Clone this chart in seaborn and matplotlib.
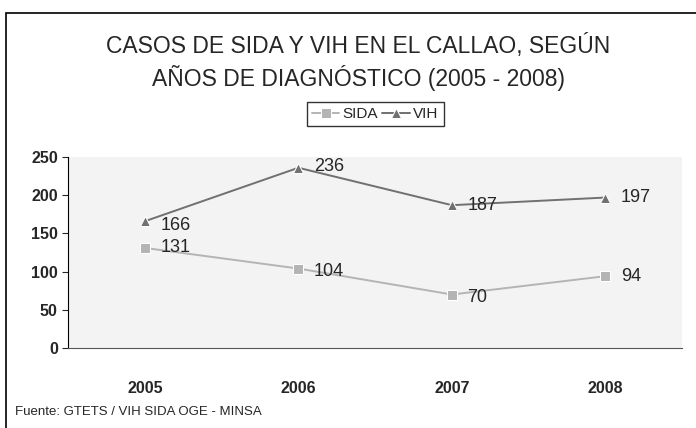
import pandas as pd
import seaborn as sns
import matplotlib.pyplot as plt

years = ["2005", "2006", "2007", "2008"]
sida = [131, 104, 70, 94]
vih = [166, 236, 187, 197]

df = pd.DataFrame({"Año": years * 2,
                   "Casos": sida + vih,
                   "Serie": ["SIDA"] * 4 + ["VIH"] * 4})

sns.set_style("white")
plt.rcParams['font.family'] = ['Liberation Sans', 'DejaVu Sans']

fig = plt.figure(figsize=(6.96, 4.28), dpi=100)
# outer frame of the chart (runs off the right and bottom edges)
fig.patches.append(plt.Rectangle((0.008, -0.05), 1.05, 1.02, transform=fig.transFigure,
                                 fill=False, edgecolor="black", linewidth=1.2))
ax = fig.add_axes([0.098, 0.187, 0.882, 0.446])
ax.set_facecolor("#f3f3f3")

sns.lineplot(data=df, x="Año", y="Casos", hue="Serie", style="Serie",
             palette={"SIDA": "#b4b4b4", "VIH": "#707070"},
             markers={"SIDA": "s", "VIH": "^"}, dashes=False,
             markersize=7, linewidth=1.4, ax=ax)

offs_sida = [0, -4, -4, 0]
offs_vih = [-6, 2, 0, 0]
for i, v in enumerate(sida):
    ax.text(i + 0.1, v + offs_sida[i], str(v), va="center", ha="left", fontsize=13)
for i, v in enumerate(vih):
    ax.text(i + 0.1, v + offs_vih[i], str(v), va="center", ha="left", fontsize=13)

ax.set_xlim(-0.5, 3.5)
ax.set_ylim(0, 250)
ax.set_yticks([0, 50, 100, 150, 200, 250])
ax.set_xlabel("")
ax.set_ylabel("")
ax.tick_params(axis="both", labelsize=11.5, length=4, direction="out", left=True, bottom=False)
for lbl in ax.get_xticklabels() + ax.get_yticklabels():
    lbl.set_fontweight("bold")
ax.tick_params(axis="x", pad=20)
for s in ["top", "right"]:
    ax.spines[s].set_visible(False)
ax.spines["left"].set_color("black")
ax.spines["bottom"].set_color("#555555")

ax.legend(title=None, loc="center", bbox_to_anchor=(0.5, 1.225), ncol=2,
          frameon=True, fancybox=False, edgecolor="black", fontsize=11,
          handlelength=1.8, columnspacing=0.3, handletextpad=0.2, borderpad=0.35,
          borderaxespad=0)

fig.text(0.515, 0.875, "CASOS DE SIDA Y VIH EN EL CALLAO, SEGÚN", ha="center",
         fontsize=16.5)
fig.text(0.515, 0.8, "AÑOS DE DIAGNÓSTICO (2005 - 2008)", ha="center",
         fontsize=16.5)
fig.text(0.022, 0.03, "Fuente: GTETS / VIH SIDA OGE - MINSA", ha="left", fontsize=9.5)

fig.savefig("out.png", dpi=100)
